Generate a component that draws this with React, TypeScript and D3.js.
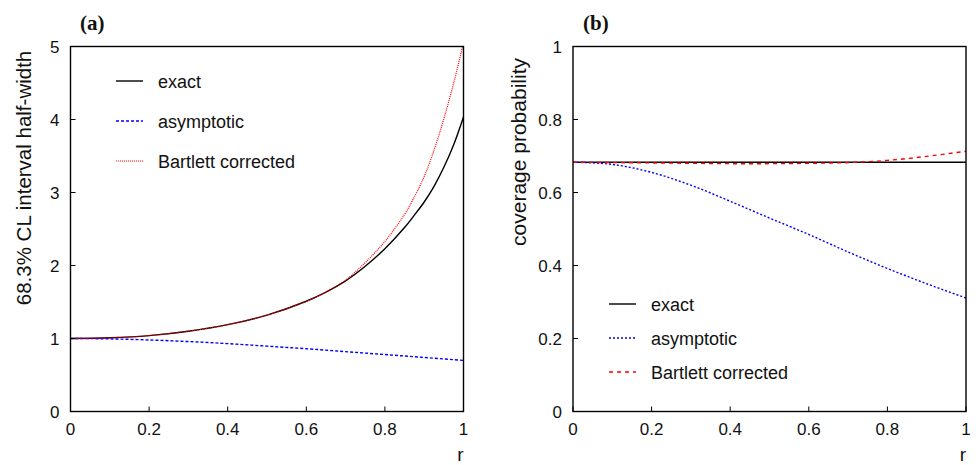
import React from "react";
import * as d3 from "d3";

const rFine = [0, 0.1, 0.2, 0.3, 0.4, 0.5, 0.6, 0.65, 0.7, 0.75, 0.8, 0.85, 0.875, 0.9, 0.925, 0.95, 0.975, 1.0];
const exactA = [1.0, 1.01, 1.04, 1.1, 1.19, 1.32, 1.51, 1.635, 1.79, 1.99, 2.23, 2.52, 2.69, 2.87, 3.085, 3.345, 3.655, 4.035];
const bartA = [1.0, 1.01, 1.04, 1.1, 1.19, 1.32, 1.51, 1.635, 1.8, 2.04, 2.33, 2.7, 2.94, 3.22, 3.58, 4.01, 4.5, 5.05];

const rCoarse = [0, 0.1, 0.2, 0.3, 0.4, 0.5, 0.6, 0.7, 0.8, 0.9, 1.0];
const asymA = [1.0, 0.995, 0.98, 0.958, 0.93, 0.895, 0.86, 0.82, 0.78, 0.74, 0.7];

const exactB = [0.683, 0.683, 0.683, 0.683, 0.683, 0.683, 0.683, 0.683, 0.683, 0.683, 0.683];
const asymB = [0.683, 0.677, 0.655, 0.62, 0.576, 0.53, 0.485, 0.437, 0.392, 0.35, 0.311];
const bartB = [0.683, 0.682, 0.681, 0.68, 0.679, 0.679, 0.68, 0.682, 0.688, 0.699, 0.713];

const xTicks = [0, 0.2, 0.4, 0.6, 0.8, 1];
const xTickLabels = ["0", "0.2", "0.4", "0.6", "0.8", "1"];
const yTicksA = [0, 1, 2, 3, 4, 5];
const yTickLabelsA = ["0", "1", "2", "3", "4", "5"];
const yTicksB = [0, 0.2, 0.4, 0.6, 0.8, 1];
const yTickLabelsB = ["0", "0.2", "0.4", "0.6", "0.8", "1"];

const legendNames = ["exact", "asymptotic", "Bartlett corrected"];

const SANS = "'Liberation Sans', Arial, Helvetica, sans-serif";
const SERIF = "'Liberation Serif', 'Times New Roman', serif";

type Series = { xs: number[]; ys: number[]; color: string; dash?: string; width: number };

function Panel(props: {
  id: string;
  x0: number;
  x1: number;
  yDomain: [number, number];
  yTicks: number[];
  yTickLabels: string[];
  series: Series[];
  label: string;
  labelX: number;
  yLabel: string;
  yLabelX: number;
  yLabelY: number;
  yLabelSize: number;
  legendX: number;
  legendY: number[];
}) {
  const top = 46.5;
  const bottom = 411.5;
  const x = d3.scaleLinear().domain([0, 1]).range([props.x0, props.x1]);
  const y = d3.scaleLinear().domain(props.yDomain).range([bottom, top]);
  const line = (s: Series) =>
    d3
      .line<number>()
      .x((_, i) => x(s.xs[i]))
      .y((v) => y(v))
      .curve(d3.curveCatmullRom.alpha(0.5))(s.ys) || "";
  return (
    <g>
      <defs>
        <clipPath id={props.id}>
          <rect x={props.x0} y={top} width={props.x1 - props.x0} height={bottom - top} />
        </clipPath>
      </defs>
      <g clipPath={`url(#${props.id})`}>
        {props.series.map((s, i) => (
          <path
            key={i}
            d={line(s)}
            fill="none"
            stroke={s.color}
            strokeWidth={s.width}
            strokeDasharray={s.dash}
          />
        ))}
      </g>
      <rect
        x={props.x0}
        y={top}
        width={props.x1 - props.x0}
        height={bottom - top}
        fill="none"
        stroke="#000"
        strokeWidth={1.4}
      />
      {xTicks.map((t, i) => (
        <g key={"xt" + i}>
          <line x1={x(t)} x2={x(t)} y1={bottom} y2={bottom - 5} stroke="#000" strokeWidth={1} />
          <text x={x(t)} y={435} textAnchor="middle" fontFamily={SANS} fontSize={17} fill="#111">
            {xTickLabels[i]}
          </text>
        </g>
      ))}
      {props.yTicks.map((t, i) => (
        <g key={"yt" + i}>
          <line x1={props.x0} x2={props.x0 + 5} y1={y(t)} y2={y(t)} stroke="#000" strokeWidth={1} />
          <text
            x={props.x0 - 11}
            y={y(t) + 6}
            textAnchor="end"
            fontFamily={SANS}
            fontSize={17}
            fill="#111"
          >
            {props.yTickLabels[i]}
          </text>
        </g>
      ))}
      <text x={props.x1} y={461} textAnchor="end" fontFamily={SANS} fontSize={19} fill="#111">
        r
      </text>
      <text
        transform={`translate(${props.yLabelX},${props.yLabelY}) rotate(-90)`}
        textAnchor="middle"
        fontFamily={SANS}
        fontSize={props.yLabelSize}
        fill="#111"
      >
        {props.yLabel}
      </text>
      <text x={props.labelX} y={30} fontFamily={SERIF} fontWeight="bold" fontSize={21} fill="#111">
        {props.label}
      </text>
      {props.series.slice(0, 3).map((s, i) => (
        <g key={"lg" + i}>
          <line
            x1={props.legendX}
            x2={props.legendX + 27}
            y1={props.legendY[i]}
            y2={props.legendY[i]}
            stroke={s.color}
            strokeWidth={s.width}
            strokeDasharray={s.dash}
          />
          <text
            x={props.legendX + 42}
            y={props.legendY[i] + 7}
            fontFamily={SANS}
            fontSize={18}
            fill="#111"
          >
            {legendNames[i]}
          </text>
        </g>
      ))}
    </g>
  );
}

export default function App() {
  const seriesA: Series[] = [
    { xs: rFine, ys: exactA, color: "#000", width: 1.4 },
    { xs: rCoarse, ys: asymA, color: "#0000ff", dash: "3,2", width: 1.4 },
    { xs: rFine, ys: bartA, color: "#ff0000", dash: "1,1", width: 1.2 },
  ];
  const seriesB: Series[] = [
    { xs: rCoarse, ys: exactB, color: "#000", width: 1.4 },
    { xs: rCoarse, ys: asymB, color: "#0000ff", dash: "2,2", width: 1.4 },
    { xs: rCoarse, ys: bartB, color: "#ff0000", dash: "4,4", width: 1.4 },
  ];
  return (
    <svg
      width={976}
      height={465}
      style={{ position: "absolute", left: 0, top: 0, background: "#fff" }}
    >
      <rect x={0} y={0} width={976} height={465} fill="#fff" />
      <Panel
        id="clipA"
        x0={70.5}
        x1={463.5}
        yDomain={[0, 5]}
        yTicks={yTicksA}
        yTickLabels={yTickLabelsA}
        series={seriesA}
        label="(a)"
        labelX={80}
        yLabel="68.3% CL interval half-width"
        yLabelX={31}
        yLabelY={178}
        yLabelSize={20.5}
        legendX={116}
        legendY={[81, 121, 161]}
      />
      <Panel
        id="clipB"
        x0={573}
        x1={966}
        yDomain={[0, 1]}
        yTicks={yTicksB}
        yTickLabels={yTickLabelsB}
        series={seriesB}
        label="(b)"
        labelX={583}
        yLabel="coverage probability"
        yLabelX={526}
        yLabelY={152}
        yLabelSize={21}
        legendX={609}
        legendY={[304, 338, 372]}
      />
    </svg>
  );
}
